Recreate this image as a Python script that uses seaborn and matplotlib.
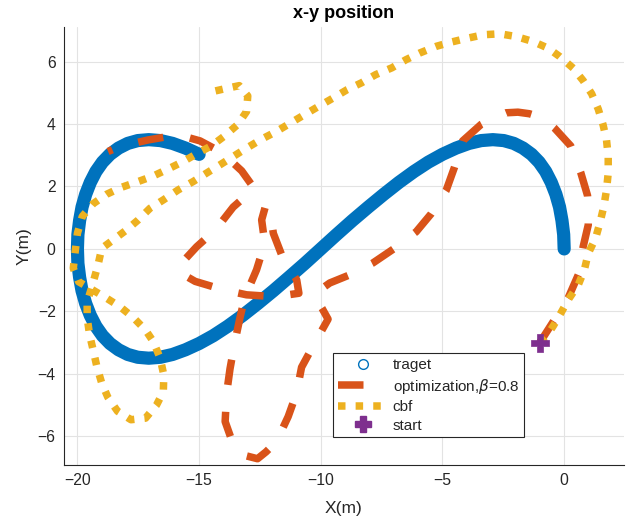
import matplotlib
matplotlib.use("Agg")
import matplotlib.pyplot as plt
import seaborn as sns
import pandas as pd
from matplotlib.lines import Line2D

# ---------------- data ----------------
target_x = [0.0, -0.02, -0.09, -0.19, -0.34, -0.53, -0.76, -1.03, -1.34, -1.69, -2.07, -2.48,
            -2.93, -3.41, -3.91, -4.44, -5.0, -5.58, -6.17, -6.79, -7.41, -8.05, -8.70, -9.35,
            -10.0, -10.65, -11.31, -11.95, -12.59, -13.21, -13.83, -14.42, -15.0, -15.56,
            -16.09, -16.59, -17.07, -17.52, -17.93, -18.31, -18.66, -18.97, -19.24, -19.47,
            -19.66, -19.81, -19.91, -19.98, -20.0, -19.98, -19.91, -19.81, -19.66, -19.47,
            -19.24, -18.97, -18.66, -18.31, -17.93, -17.52, -17.07, -16.59, -16.09, -15.56,
            -15.0]
target_y = [0.0, 0.46, 0.91, 1.34, 1.75, 2.13, 2.48, 2.78, 3.03, 3.23, 3.38, 3.47,
            3.5, 3.47, 3.38, 3.23, 3.03, 2.78, 2.48, 2.13, 1.75, 1.34, 0.91, 0.46,
            0.0, -0.46, -0.91, -1.34, -1.75, -2.13, -2.48, -2.78, -3.03, -3.23,
            -3.38, -3.47, -3.5, -3.47, -3.38, -3.23, -3.03, -2.78, -2.48, -2.13,
            -1.75, -1.34, -0.91, -0.46, 0.0, 0.46, 0.91, 1.34, 1.75, 2.13,
            2.48, 2.78, 3.03, 3.23, 3.38, 3.47, 3.5, 3.47, 3.38, 3.23,
            3.03]

opt_x = [-1.0, -0.45, 0.16, 0.58, 0.78, 0.99, 1.0, 0.96, 0.68, 0.27, -0.41, -0.9, -1.43,
         -1.9, -2.39, -2.9, -3.41, -4.17, -4.51, -4.85, -5.46, -6.08, -6.97, -7.86, -8.81,
         -9.63, -10.1, -10.18, -9.95, -9.7, -10.31, -10.79, -11.0, -11.34, -11.82, -12.25,
         -12.6, -13.2, -13.59, -13.93, -13.87, -13.73, -13.52, -13.32, -13.12, -12.64,
         -12.3, -12.43, -12.28, -12.09, -11.95, -11.53, -10.99, -10.9, -11.89, -13.05,
         -14.0, -15.16, -15.7, -15.85, -15.1, -14.34, -13.6, -12.9, -12.7, -13.25, -14.07,
         -14.96, -15.6, -16.13, -17.1, -18.26, -18.74]
opt_y = [-3.0, -2.33, -1.58, -0.83, 0.07, 0.77, 1.2, 1.71, 2.45, 3.3, 3.88, 4.2, 4.33,
         4.38, 4.36, 4.2, 3.99, 3.46, 2.61, 1.87, 1.13, 0.55, 0.02, -0.45, -0.83,
         -1.09, -1.35, -1.62, -1.9, -2.25, -3.1, -3.79, -4.63, -5.37, -6.17, -6.5,
         -6.72, -6.6, -6.28, -5.53, -4.63, -3.84, -2.94, -2.2, -1.55, -0.67,
         0.18, 0.93, 1.35, 1.25, 0.5, -0.35, -0.99, -1.42, -1.53, -1.47,
         -1.31, -1.04, -0.8, -0.56, 0.07, 0.6, 1.34, 1.82, 1.9, 2.5, 3.09,
         3.46, 3.6, 3.62, 3.49, 3.28, 3.12]

cbf_x = [-1.0, -0.72, -0.45, -0.14, 0.19, 0.58, 0.83, 0.99, 1.29, 1.47, 1.63, 1.74, 1.81,
         1.81, 1.74, 1.6, 1.4, 1.13, 0.78, 0.37, -0.18, -0.66, -1.27, -1.96, -2.64, -3.32,
         -4.08, -4.67, -5.25, -5.92, -6.5, -7.08, -7.75, -8.33, -8.92, -9.5, -10.08, -10.67,
         -11.25, -11.83, -12.42, -13.05, -13.6, -14.15, -14.69, -15.24, -15.86, -16.47,
         -17.02, -17.5, -17.98, -18.53, -19.0, -19.15, -19.4, -19.6, -19.6, -19.5, -19.35,
         -19.2, -19.0, -18.75, -18.35, -17.8, -17.2, -16.75, -16.47, -16.45, -16.6, -16.88,
         -17.2, -17.7, -18.25, -18.8, -19.4, -19.95, -20.17, -20.1, -20.0, -19.8, -19.35,
         -18.8, -18.2, -17.5, -16.9, -16.3, -15.65, -15.05, -14.5, -13.95, -13.42, -13.05,
         -13.0, -13.35, -14.0, -14.67]
cbf_y = [-3.0, -2.79, -2.47, -2.06, -1.6, -1.15, -0.67, -0.14, 0.34, 0.84, 1.36, 1.89, 2.43,
         2.96, 3.49, 3.97, 4.48, 4.97, 5.39, 5.79, 6.16, 6.43, 6.64, 6.8, 6.89, 6.86,
         6.73, 6.62, 6.49, 6.28, 6.06, 5.8, 5.58, 5.32, 5.1, 4.83, 4.57, 4.3,
         4.03, 3.76, 3.52, 3.23, 2.96, 2.69, 2.43, 2.16, 1.89, 1.57,
         1.3, 0.93, 0.61, 0.29, 0.02, -0.5, -1.2, -1.7, -2.2, -2.75, -3.25,
         -3.77, -4.3, -4.75, -5.2, -5.47, -5.42, -5.0, -4.57, -4.04, -3.5, -2.97,
         -2.6, -2.2, -1.85, -1.58, -1.3, -1.05, -0.62, -0.14, 0.5, 1.04, 1.45,
         1.75, 1.97, 2.16, 2.33, 2.55, 2.8, 3.07, 3.3, 3.62, 3.98, 4.4,
         4.9, 5.23, 5.12, 5.0]

start_x = [-1.0]
start_y = [-3.0]

legend_labels = ["traget", r"optimization,$\beta$=0.8", "cbf", "start"]
x_ticks = [-20, -15, -10, -5, 0]
y_ticks = [-6, -4, -2, 0, 2, 4, 6]

# ---------------- styling ----------------
sns.set_style("white")
plt.rcParams['font.family'] = ['Liberation Sans', 'DejaVu Sans']
plt.rcParams['axes.unicode_minus'] = True

C_BLUE = '#0072BD'
C_ORANGE = '#D95319'
C_YELLOW = '#EDB120'
C_PURPLE = '#7E2F8E'
C_AX = '#262626'

fig = plt.figure(figsize=(6.39, 5.2), dpi=100)
ax = fig.add_axes([0.1002, 0.1058, 0.876, 0.843])

LW = 5.4
dash_opt = (0, (3.4, 3.6))
dot_cbf = (0, (1.0, 1.35))

sns.lineplot(x=target_x, y=target_y, sort=False, estimator=None, ax=ax,
             color=C_BLUE, linewidth=9.5, solid_capstyle='round',
             solid_joinstyle='round')
sns.lineplot(x=opt_x, y=opt_y, sort=False, estimator=None, ax=ax,
             color=C_ORANGE, linewidth=LW, linestyle=dash_opt, dash_capstyle='butt')
sns.lineplot(x=cbf_x, y=cbf_y, sort=False, estimator=None, ax=ax,
             color=C_YELLOW, linewidth=LW, linestyle=dot_cbf, dash_capstyle='butt')
sns.scatterplot(x=start_x, y=start_y, ax=ax, marker='P', s=150, color=C_PURPLE,
                edgecolor=C_PURPLE, linewidth=0.5, zorder=5)

ax.set_xlim(-20.55, 2.45)
ax.set_ylim(-6.92, 7.12)
ax.set_xticks(x_ticks)
ax.set_yticks(y_ticks)
ax.grid(True, color='#e3e3e3', linewidth=0.8)
ax.set_axisbelow(True)
for s in ['top', 'right']:
    ax.spines[s].set_visible(False)
for s in ['left', 'bottom']:
    ax.spines[s].set_color(C_AX)
    ax.spines[s].set_linewidth(0.8)
ax.tick_params(direction='in', length=4, width=0.8, color=C_AX, labelcolor=C_AX,
               labelsize=11.3, pad=6, top=False, right=False)

ax.set_xlabel('X(m)', fontsize=12.5, color=C_AX, labelpad=9)
ax.set_ylabel('Y(m)', fontsize=12.5, color=C_AX, labelpad=4)
ax.set_title('x-y position', fontsize=13, fontweight='bold', color='black', pad=6)

handles = [
    Line2D([], [], linestyle='none', marker='o', markerfacecolor='none',
           markeredgecolor=C_BLUE, markersize=7, markeredgewidth=1.0),
    Line2D([], [], color=C_ORANGE, linewidth=LW, linestyle=dash_opt, dash_capstyle='butt'),
    Line2D([], [], color=C_YELLOW, linewidth=LW, linestyle=dot_cbf, dash_capstyle='butt'),
    Line2D([], [], linestyle='none', marker='P', markersize=11,
           markerfacecolor=C_PURPLE, markeredgecolor=C_PURPLE),
]
leg = ax.legend(handles, legend_labels, loc='upper left',
                bbox_to_anchor=(0.5211, 0.3202), bbox_transform=fig.transFigure,
                borderaxespad=0, fontsize=11, handlelength=3.33, handletextpad=0.27,
                borderpad=0.3, labelspacing=0.3, fancybox=False, framealpha=1,
                edgecolor=C_AX)
leg.get_frame().set_linewidth(0.8)
for t in leg.get_texts():
    t.set_color(C_AX)

fig.savefig('out.png', dpi=100)
